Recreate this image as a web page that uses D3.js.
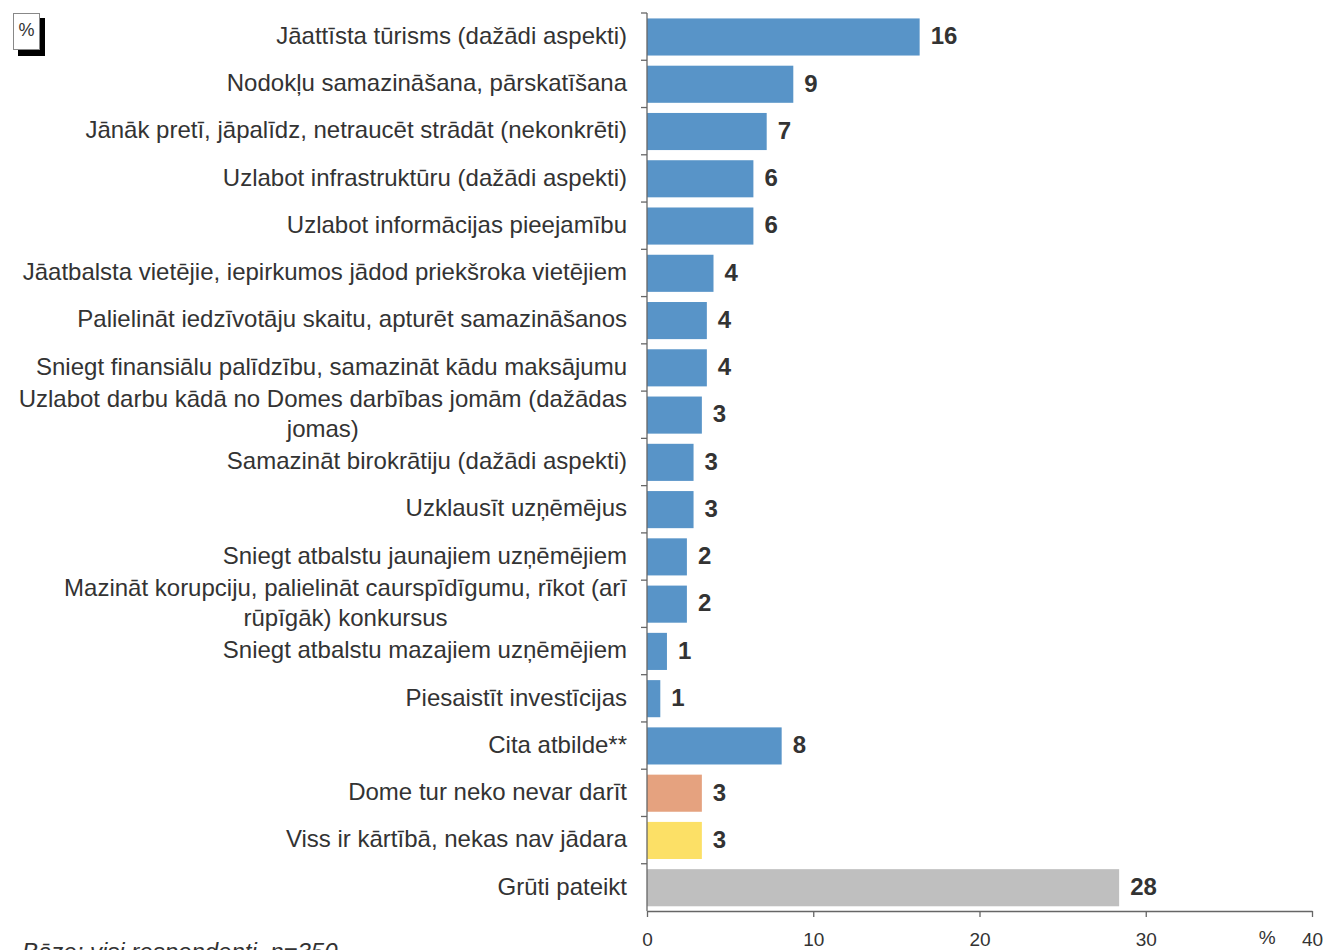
<!DOCTYPE html>
<html>
<head>
<meta charset="utf-8">
<script src="https://cdn.jsdelivr.net/npm/d3@7"></script>
<style>
  body { margin: 0; background: #fff; }
  svg { display: block; font-family: "Liberation Sans", Arial, sans-serif; }
</style>
</head>
<body>
<div id="chart"></div>
<script>
const categories = [
  "Jāattīsta tūrisms (dažādi aspekti)",
  "Nodokļu samazināšana, pārskatīšana",
  "Jānāk pretī, jāpalīdz, netraucēt strādāt (nekonkrēti)",
  "Uzlabot infrastruktūru (dažādi aspekti)",
  "Uzlabot informācijas pieejamību",
  "Jāatbalsta vietējie, iepirkumos jādod priekšroka vietējiem",
  "Palielināt iedzīvotāju skaitu, apturēt samazināšanos",
  "Sniegt finansiālu palīdzību, samazināt kādu maksājumu",
  "Uzlabot darbu kādā no Domes darbības jomām (dažādas jomas)",
  "Samazināt birokrātiju (dažādi aspekti)",
  "Uzklausīt uzņēmējus",
  "Sniegt atbalstu jaunajiem uzņēmējiem",
  "Mazināt korupciju, palielināt caurspīdīgumu, rīkot (arī rūpīgāk) konkursus",
  "Sniegt atbalstu mazajiem uzņēmējiem",
  "Piesaistīt investīcijas",
  "Cita atbilde**",
  "Dome tur neko nevar darīt",
  "Viss ir kārtībā, nekas nav jādara",
  "Grūti pateikt"
];
const values = [16.4, 8.8, 7.2, 6.4, 6.4, 4.0, 3.6, 3.6, 3.3, 2.8, 2.8, 2.4, 2.4, 1.2, 0.8, 8.1, 3.3, 3.3, 28.4];
const groups = ["a", "a", "a", "a", "a", "a", "a", "a", "a", "a", "a", "a", "a", "a", "a", "a", "b", "c", "d"];
const xTicks = [0, 10, 20, 30, 40];
const unitLabel = "%";
const baseNote = "Bāze: visi respondenti, n=350";

const colors = { a: "#5894c8", b: "#e5a27f", c: "#fce066", d: "#bfbfbf" };

const width = 1328, height = 950;
const margin = { left: 647, right: 16, top: 13, bottom: 39 };

const svg = d3.select("#chart")
  .append("svg")
  .attr("width", width)
  .attr("height", height);

const data = categories.map((c, i) => ({ cat: c, value: values[i], group: groups[i] }));

const x = d3.scaleLinear()
  .domain([0, 40])
  .range([margin.left, width - margin.right]);

const y = d3.scaleBand()
  .domain(categories)
  .range([margin.top, height - margin.bottom]);

const step = y.step();
const barPad = step * 0.115;
const barH = step * 0.785;

// bars
svg.append("g")
  .selectAll("rect")
  .data(data)
  .join("rect")
  .attr("x", x(0))
  .attr("y", d => y(d.cat) + barPad)
  .attr("width", d => x(d.value) - x(0))
  .attr("height", barH)
  .attr("fill", d => colors[d.group]);

// value labels
svg.append("g")
  .selectAll("text")
  .data(data)
  .join("text")
  .attr("x", d => x(d.value) + 11)
  .attr("y", d => y(d.cat) + step / 2)
  .attr("dy", "0.32em")
  .attr("font-size", 24)
  .attr("font-weight", "bold")
  .attr("fill", "#333")
  .text(d => d3.format(".0f")(d.value));

// y axis: line with ticks at band edges
const yAxis = svg.append("g").attr("stroke", "#666").attr("stroke-width", 1.3);
yAxis.append("line")
  .attr("x1", x(0)).attr("x2", x(0))
  .attr("y1", margin.top).attr("y2", height - margin.bottom);
yAxis.selectAll("line.tick")
  .data(categories)
  .join("line")
  .attr("class", "tick")
  .attr("x1", x(0) - 6).attr("x2", x(0))
  .attr("y1", d => y(d)).attr("y2", d => y(d));

// x axis
const xAxis = svg.append("g")
  .attr("transform", `translate(0,${height - margin.bottom})`)
  .call(d3.axisBottom(x).tickValues(xTicks).tickSize(6).tickPadding(16).tickSizeOuter(0));
xAxis.select(".domain").attr("stroke", "#666").attr("stroke-width", 1.3);
xAxis.selectAll(".tick line").attr("stroke", "#666").attr("stroke-width", 1.3);
xAxis.selectAll(".tick text")
  .attr("font-size", 19)
  .attr("font-family", "Liberation Sans, Arial, sans-serif")
  .attr("fill", "#333");

svg.append("text")
  .attr("x", x(37.3))
  .attr("y", height - margin.bottom + 33)
  .attr("font-size", 19)
  .attr("fill", "#333")
  .attr("text-anchor", "middle")
  .text(unitLabel);

// category labels, wrapped when too long
const labelRight = x(0) - 20;
const maxW = 612;
const labels = svg.append("g")
  .selectAll("text")
  .data(data)
  .join("text")
  .attr("font-size", 24)
  .attr("fill", "#333");

labels.each(function (d) {
  const t = d3.select(this);
  const words = d.cat.split(" ");
  const lines = [];
  let cur = [];
  const probe = t.append("tspan");
  words.forEach(w => {
    cur.push(w);
    probe.text(cur.join(" "));
    if (probe.node().getComputedTextLength() > maxW && cur.length > 1) {
      cur.pop();
      lines.push(cur.join(" "));
      cur = [w];
    }
  });
  lines.push(cur.join(" "));
  probe.remove();

  const lh = 30;
  const cy = y(d.cat) + step / 2 - (lines.length - 1) * lh / 2;
  if (lines.length === 1) {
    t.attr("text-anchor", "end")
      .append("tspan")
      .attr("x", labelRight)
      .attr("y", cy)
      .attr("dy", "0.3em")
      .text(lines[0]);
  } else {
    const spans = lines.map((l, i) => t.append("tspan")
      .attr("y", cy + i * lh)
      .attr("dy", "0.3em")
      .text(l));
    const w = d3.max(spans, s => s.node().getComputedTextLength());
    t.attr("text-anchor", "middle");
    spans.forEach(s => s.attr("x", labelRight - w / 2));
  }
});

// % box with shadow
svg.append("rect")
  .attr("x", 18).attr("y", 18).attr("width", 27).attr("height", 38)
  .attr("fill", "#000");
svg.append("rect")
  .attr("x", 13.5).attr("y", 13.5).attr("width", 26).attr("height", 36)
  .attr("fill", "#fff").attr("stroke", "#888").attr("stroke-width", 1);
svg.append("text")
  .attr("x", 26.5).attr("y", 30)
  .attr("dy", "0.35em")
  .attr("text-anchor", "middle")
  .attr("font-size", 18)
  .attr("fill", "#333")
  .text(unitLabel);

// base note, cut off at the bottom edge as in the original
svg.append("text")
  .attr("x", 22).attr("y", 960)
  .attr("font-size", 24)
  .attr("font-style", "italic")
  .attr("fill", "#333")
  .text(baseNote);
</script>
</body>
</html>
